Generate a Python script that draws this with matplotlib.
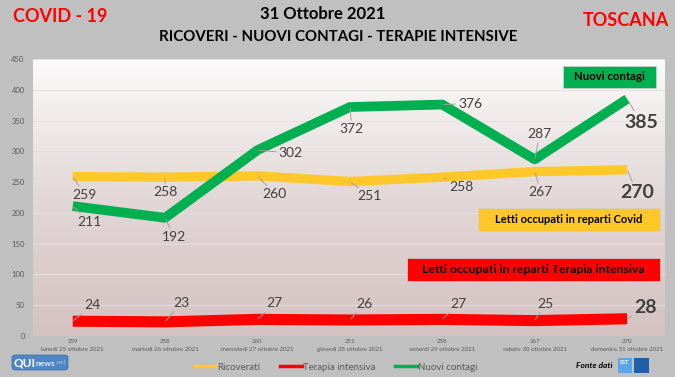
import matplotlib
matplotlib.use("Agg")
import matplotlib.pyplot as plt
import numpy as np
from matplotlib.patches import Rectangle, FancyBboxPatch
from matplotlib.lines import Line2D
from matplotlib.colors import LinearSegmentedColormap

plt.rcParams['font.family'] = ['Lato', 'DejaVu Sans']

# ---------------- data ----------------
dates = ["lunedì 25 ottobre 2021", "martedì 26 ottobre 2021", "mercoledì 27 ottobre 2021",
         "giovedì 28 ottobre 2021", "venerdì 29 ottobre 2021", "sabato 30 ottobre 2021",
         "domenica 31 ottobre 2021"]
ricoverati = [259, 258, 260, 251, 258, 267, 270]
terapia = [24, 23, 27, 26, 27, 25, 28]
contagi = [211, 192, 302, 372, 376, 287, 385]
yticks = [0, 50, 100, 150, 200, 250, 300, 350, 400, 450]

# label offsets (pixels: dx right, dy up)
off_ric = [(12, -18), (0, -15), (17, -18), (20, -15), (19, -10), (6, -20), (10, -23)]
off_con = [(17, -16), (9, -19), (33, -3), (2, -22), (28, 1), (5, 25), (14, -23)]
off_ter = [(20, 16), (16, 19), (17, 16), (14, 16), (16, 15), (11, 17), (18, 11)]

W, H = 675, 377
fig = plt.figure(figsize=(W / 100, H / 100), dpi=100)
fig.patch.set_facecolor('#c0c0c0')

L, R, T, B = 33, 665, 59, 336
ax = fig.add_axes([L / W, 1 - B / H, (R - L) / W, (B - T) / H])
ax.set_xlim(-0.43, 6.41)
ax.set_ylim(0, 450)

# gradient background
cmap = LinearSegmentedColormap.from_list('bg', ['#d5c2c2', '#e3d7d7', '#fbfbfb'])
grad = np.linspace(0, 1, 256).reshape(-1, 1)
ax.imshow(grad, extent=[-0.43, 6.41, 0, 450], origin='lower', aspect='auto',
          cmap=cmap, zorder=0)
for s in ax.spines.values():
    s.set_visible(False)

ax.set_yticks(yticks)
ax.set_yticklabels([str(v) for v in yticks], fontsize=5.5, color='#595959')
ax.tick_params(axis='y', length=0, pad=6)
ax.grid(axis='y', color='#e6dede', lw=0.7, zorder=1)
ax.set_axisbelow(True)

x = np.arange(len(dates))
ax.set_xticks(x)
ax.set_xticklabels([f"{r}\n{d}" for r, d in zip(ricoverati, dates)],
                   fontsize=4.4, color='#595959', linespacing=1.7)
ax.tick_params(axis='x', length=0, pad=2)

c_yel, c_red, c_grn = '#ffc82a', '#ff0000', '#00b050'
ax.plot(x, ricoverati, color=c_yel, lw=6.7, solid_capstyle='butt', solid_joinstyle='round', zorder=3)
ax.plot(x, terapia, color=c_red, lw=8, solid_capstyle='butt', solid_joinstyle='round', zorder=3)
ax.plot(x, contagi, color=c_grn, lw=7, solid_capstyle='butt', solid_joinstyle='round', zorder=4)

def labels(vals, offs):
    n = len(vals)
    for i, (v, (dx, dy)) in enumerate(zip(vals, offs)):
        last = i == n - 1
        ax.annotate(str(v), xy=(x[i], v), xytext=(dx * 0.72, dy * 0.72),
                    textcoords='offset points', ha='center', va='center',
                    fontsize=14 if last else 10, fontweight='bold' if last else 'normal',
                    color='#404040', zorder=6,
                    arrowprops=dict(arrowstyle='-', color='#a0a0a0', lw=0.7,
                                    shrinkA=0, shrinkB=1))

labels(ricoverati, off_ric)
labels(contagi, off_con)
labels(terapia, off_ter)

def fbox(x0, y0, x1, y1, color, text, fs=8):
    fig.patches.append(Rectangle((x0 / W, 1 - y1 / H), (x1 - x0) / W, (y1 - y0) / H,
                                 transform=fig.transFigure, facecolor=color,
                                 edgecolor='#d0d0d0', lw=0.5, zorder=10))
    fig.text((x0 + x1) / 2 / W, 1 - (y0 + y1) / 2 / H, text, ha='center', va='center',
             fontsize=fs, fontweight='bold', color='black', zorder=11)

fbox(563, 66, 656, 88, c_grn, "Nuovi contagi", 8.2)
fbox(478, 208, 660, 231, c_yel, "Letti occupati in reparti Covid", 8)
fbox(407, 258, 660, 281, c_red, "Letti occupati in reparti Terapia intensiva", 8.8)

# titles
fig.text(60 / W, 1 - 17 / H, "COVID - 19", color='#ff0000', fontsize=13, fontweight='bold',
         ha='center', va='center')
fig.text(626 / W, 1 - 20 / H, "TOSCANA", color='#ff0000', fontsize=13, fontweight='bold',
         ha='center', va='center')
fig.text(323 / W, 1 - 14 / H, "31 Ottobre 2021", color='black', fontsize=12, fontweight='bold',
         ha='center', va='center')
fig.text(338 / W, 1 - 37 / H, "RICOVERI - NUOVI CONTAGI - TERAPIE INTENSIVE", color='black',
         fontsize=10.8, fontweight='bold', ha='center', va='center')

# legend
handles = [Line2D([], [], color=c_yel, lw=2.5), Line2D([], [], color=c_red, lw=2.5),
           Line2D([], [], color=c_grn, lw=2.5)]
leg = fig.legend(handles, ["Ricoverati", "Terapia intensiva", "Nuovi contagi"],
                 loc='center', bbox_to_anchor=(336 / W, 1 - 367 / H), ncol=3, frameon=False,
                 fontsize=7, handlelength=2.3, handletextpad=0.1, columnspacing=2.0)
for t in leg.get_texts():
    t.set_color('#595959')

# QUInews logo
fig.patches.append(FancyBboxPatch((12 / W, 1 - 370 / H), 56 / W, 15 / H,
                                  boxstyle='round,pad=0,rounding_size=0.006',
                                  transform=fig.transFigure, facecolor='#4f86c6',
                                  edgecolor='#3a6aa5', lw=0.5, zorder=10))
fig.text(14 / W, 1 - 362.5 / H, "QUI", color='white', fontsize=8.5, fontweight='bold',
         ha='left', va='center', zorder=11)
fig.text(36 / W, 1 - 363 / H, "news", color='#e8eef8', fontsize=6, fontweight='bold',
         ha='left', va='center', zorder=11)
fig.text(56 / W, 1 - 363 / H, ".net", color='#a9c4e6', fontsize=4.5,
         ha='left', va='center', zorder=11)

# Fonte dati + SST logo
fig.text(612 / W, 1 - 365 / H, "Fonte dati", color='black', fontsize=6, fontweight='bold',
         style='italic', ha='right', va='center')
fig.patches.append(Rectangle((618 / W, 1 - 373 / H), 14 / W, 15 / H, transform=fig.transFigure,
                             facecolor='#5aa5e6', edgecolor='none', zorder=10))
fig.patches.append(Rectangle((634 / W, 1 - 373 / H), 15 / W, 15 / H, transform=fig.transFigure,
                             facecolor='#1f5fa8', edgecolor='none', zorder=10))
fig.text(625 / W, 1 - 362 / H, "SST", color='white', fontsize=4, fontweight='bold',
         ha='center', va='center', zorder=11)

fig.savefig("out.png", dpi=100, facecolor=fig.get_facecolor())
